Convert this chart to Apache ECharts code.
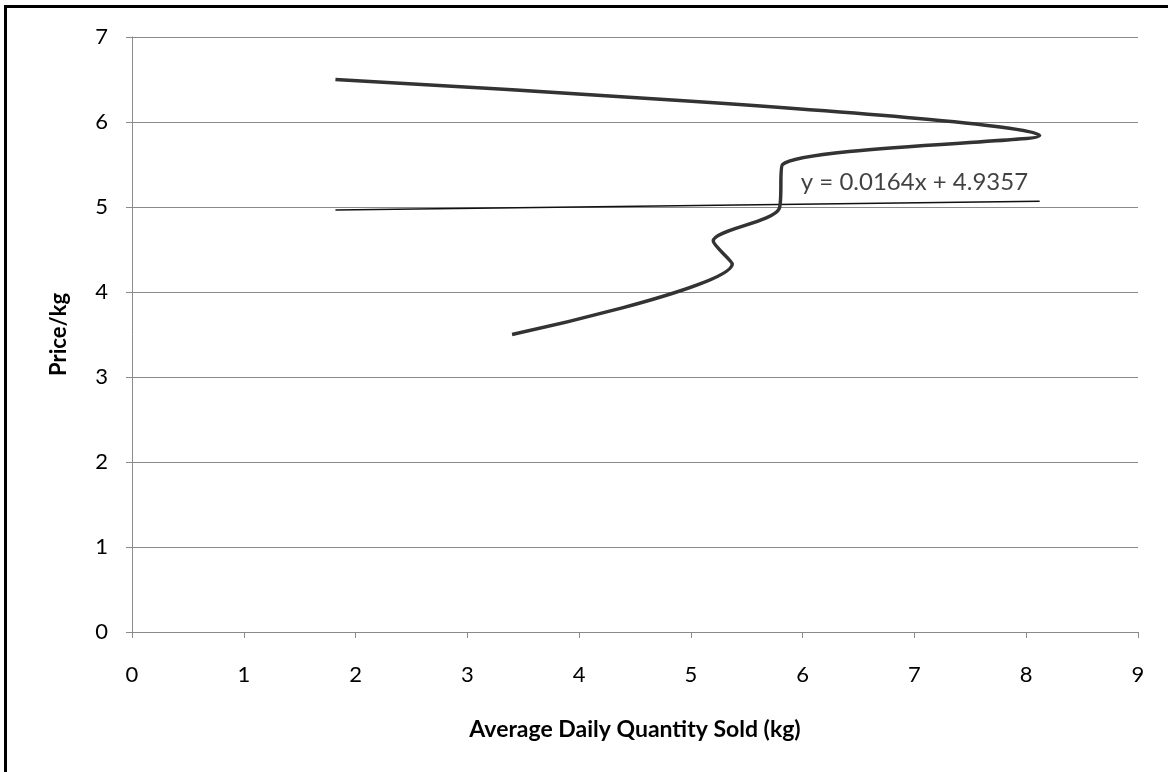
<!DOCTYPE html>
<html>
<head>
<meta charset="utf-8">
<script src="https://cdn.jsdelivr.net/npm/echarts@6/dist/echarts.min.js"></script>
<style>
  html, body { margin: 0; padding: 0; background: #fff; }
  #chart { width: 1168px; height: 772px; }
</style>
</head>
<body>
<div id="chart"></div>
<script>
// Observed demand points: average daily quantity (kg) and price per kg, in recorded order
const quantity = [1.82, 8.12, 5.82, 5.79, 5.2, 5.37, 3.4];
const price    = [6.5, 5.84, 5.5, 4.98, 4.6, 4.33, 3.5];

// Linear trendline reported for the data
const trendSlope = 0.0164;
const trendIntercept = 4.9357;
const trendLabel = 'y = 0.0164x + 4.9357';
const trendLabelAt = [7.0, 5.29];

const xTicks = { min: 0, max: 9, interval: 1 };
const yTicks = { min: 0, max: 7, interval: 1 };

const points = quantity.map((q, i) => [q, price[i]]);
const qMin = Math.min(...quantity);
const qMax = Math.max(...quantity);
const trend = [qMin, qMax].map(q => [q, trendSlope * q + trendIntercept]);

const font = 'Lato, "Open Sans", sans-serif';
const chart = echarts.init(document.getElementById('chart'));

chart.setOption({
  backgroundColor: '#ffffff',
  animation: false,
  grid: { left: 132, right: 30, top: 37, bottom: 140 },
  xAxis: {
    type: 'value',
    min: xTicks.min, max: xTicks.max, interval: xTicks.interval,
    name: 'Average Daily Quantity Sold (kg)',
    nameLocation: 'middle',
    nameGap: 86,
    nameTextStyle: { fontFamily: font, fontWeight: 'bold', fontSize: 23, color: '#000' },
    axisLine: { show: true, lineStyle: { color: '#8a8a8a', width: 1 } },
    axisTick: { show: true, length: 6, lineStyle: { color: '#8a8a8a' } },
    axisLabel: { margin: 32, fontFamily: font, fontSize: 22, color: '#000' },
    splitLine: { show: false }
  },
  yAxis: {
    type: 'value',
    min: yTicks.min, max: yTicks.max, interval: yTicks.interval,
    name: 'Price/kg',
    nameLocation: 'middle',
    nameGap: 62,
    nameRotate: 90,
    nameTextStyle: { fontFamily: font, fontWeight: 'bold', fontSize: 22, color: '#000' },
    axisLine: { show: true, lineStyle: { color: '#8a8a8a', width: 1 } },
    axisTick: { show: true, length: 6, lineStyle: { color: '#8a8a8a' } },
    axisLabel: { margin: 24, fontFamily: font, fontSize: 22, color: '#000' },
    splitLine: { show: true, lineStyle: { color: '#8a8a8a', width: 1 } }
  },
  series: [
    {
      name: 'Demand',
      type: 'line',
      data: points,
      smooth: 0.28,
      showSymbol: false,
      lineStyle: { color: '#333333', width: 3.5 },
      z: 3
    },
    {
      name: 'Trendline',
      type: 'line',
      data: trend,
      showSymbol: false,
      lineStyle: { color: '#111111', width: 1.5 },
      z: 2
    },
    {
      name: 'Trendline equation',
      type: 'scatter',
      data: [trendLabelAt],
      symbolSize: 1,
      itemStyle: { color: 'rgba(0,0,0,0)' },
      label: {
        show: true,
        position: 'inside',
        formatter: trendLabel,
        fontFamily: font,
        fontSize: 24,
        color: '#111'
      },
      silent: true,
      z: 4
    }
  ],
  graphic: [
    { type: 'rect', shape: { x: 4, y: 5, width: 3, height: 772 }, style: { fill: '#000' } },
    { type: 'rect', shape: { x: 4, y: 5, width: 1164, height: 3 }, style: { fill: '#000' } }
  ]
});
</script>
</body>
</html>
